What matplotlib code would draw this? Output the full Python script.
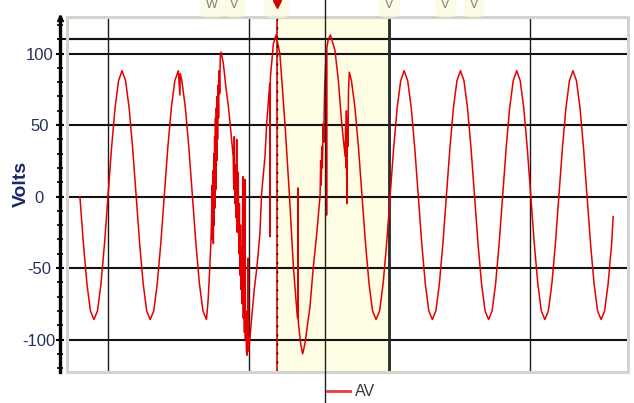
import numpy as np
import matplotlib
matplotlib.use("Agg")
import matplotlib.pyplot as plt
from matplotlib import transforms
from matplotlib.patches import Rectangle
from matplotlib.lines import Line2D

# voltage trace, steady parts sampled every 1.25 ms (16 samples / cycle)
dt = 1.25
seg1_start = 0.0
seg1_v = [0, -33, -61, -80, -86, -80, -61, -33, 0, 34, 62, 81, 88, 81, 62, 34,
          0, -33, -61, -80, -86, -80, -61, -33, 0, 34, 62, 81, 88, 81, 62, 34,
          0, -33, -61, -80]
seg2_start = 96.55
seg2_v = [81, 62, 34,
          0, -33, -61, -80, -86, -80, -61, -33, 0, 34, 62, 81, 88, 81, 62, 34,
          0, -33, -61, -80, -86, -80, -61, -33, 0, 34, 62, 81, 88, 81, 62, 34,
          0, -33, -61, -80, -86, -80, -61, -33, 0, 34, 62, 81, 88, 81, 62, 34,
          0, -33, -61, -80, -86, -80, -61, -33, 0, 34, 62, 81, 88, 81, 62, 34,
          0, -33, -61, -80, -86, -80, -61, -33]

# disturbance (ms, V), plus a notch and the last sample
burst_t = [35.55, 35.7,
           45.0, 45.6, 46.2, 46.6, 46.8, 47.0, 47.15, 47.3, 47.45, 47.6, 47.75,
           47.9, 48.05, 48.2, 48.35, 48.5, 48.65, 48.8, 48.95, 49.1, 49.3, 49.5,
           49.7, 49.9, 50.2, 51.0, 52.0, 52.8, 53.4, 54.0, 54.5, 54.7, 54.9,
           55.1, 55.4, 55.6, 55.75, 55.95, 56.15, 56.3, 56.5, 56.7, 56.9, 57.1,
           57.3, 57.5, 57.7, 57.9, 58.1, 58.3, 58.5, 58.7, 58.85, 59.0, 59.2,
           59.4, 59.6, 59.8, 59.95, 60.2, 60.5, 61.2, 62.0, 62.9, 64.0, 64.6,
           65.8, 66.4, 67.5, 67.6, 67.7, 68.8, 69.7, 71.1, 72.0, 72.9, 74.4,
           75.9, 77.3, 77.45, 77.55, 77.65, 78.5, 79.2, 80.0, 81.8, 83.0, 84.2,
           85.4, 85.6, 85.8, 86.0, 86.2, 86.5, 86.7, 87.0, 87.3, 87.6, 87.7,
           87.8, 88.3, 89.1, 90.7, 91.9, 93.1, 94.3, 94.5, 94.6, 94.75, 94.9,
           95.1, 95.3, 95.5, 95.8,
           189.6]
burst_v = [71, 86,
           -86, -72, -49, -30, -18, 8, -30, 18, -33, 30, -20,
           42, -8, 55, 5, 62, 25, 70, 40, 78, 55, 88,
           72, 97, 101, 93, 75, 63, 51, 38, 28, 5, 42,
           -5, 22, -15, 40, -25, 12, 17, -40, -5, -55, -20,
           -65, -35, -75, 14, -85, -55, -95, 12, -100, -80, -108,
           -111, -104, -43, -108, -105, -98, -82, -65, -50, -26, 2,
           28, 51, 79, -28, 83, 107, 113, 100, 75, 51, 4,
           -49, -84, -85, 6, -88, -103, -110, -103, -77, -49, -26,
           1, 25, 8, 35, 20, 51, 38, 75, 90, 100, -13,
           104, 110, 113, 102, 81, 51, 28, 50, 20, 60, -5,
           55, 35, 75, 87,
           -14]

y_grid = [-100, -50, 0, 50, 100, 110]
x_grid = [10, 60, 110, 160]
y_ticks = [-100, -50, 0, 50, 100]
y_tick_labels = ["-100", "-50", "0", "50", "100"]
span = (70, 110)
trigger_t = 70
cursor_t = 87.1
event_t = [47, 55, 110, 130, 140]
event_labels = ["W", "V", "V", "V", "V"]

narrow = ["Liberation Sans Narrow", "Liberation Sans", "DejaVu Sans"]

t = np.concatenate([seg1_start + dt * np.arange(len(seg1_v)), burst_t,
                    seg2_start + dt * np.arange(len(seg2_v))])
v = np.concatenate([seg1_v, burst_v, seg2_v])
order = np.argsort(t, kind="stable")
t, v = t[order], v[order]

fig = plt.figure(figsize=(6.34, 4.03), dpi=100)
ax = fig.add_axes([0.1049, 0.0769, 0.8849, 0.8821])
ax.set_xlim(-4.76, 194.7)
ax.set_ylim(-122.7, 125.9)

ax.axvspan(*span, color="#fffde4", lw=0, zorder=0)
for y in y_grid:
    ax.axhline(y, color="#141414", lw=1.5, zorder=1)
ax.axhline(110, xmin=-0.013, xmax=1, color="#141414", lw=1.5, zorder=1, clip_on=False)
for x in x_grid:
    ax.axvline(x, color="#1a1a1a", lw=1.0, zorder=1)
ax.axvline(span[1], color="#2a2a2a", lw=2.0, zorder=1)

ax.plot(t, v, color="#e30000", lw=1.1, zorder=3)

ax.axvline(trigger_t, color="#e00000", lw=1.2, zorder=4)
ax.axvline(trigger_t, color="black", lw=1.0, ls=(0, (1.5, 5)), zorder=4)

top = transforms.blended_transform_factory(ax.transData, fig.transFigure)
ax.add_line(Line2D([cursor_t, cursor_t], [0, 1], transform=top, color="#202020",
                   lw=1.0, clip_on=False, zorder=6))

# light frame round the plot area
ax.add_patch(Rectangle((0, 0), 1, 1, transform=ax.transAxes, fill=False,
                       edgecolor="#d6d3cc", lw=2.2, clip_on=False, zorder=5))

for s in ["top", "right", "bottom"]:
    ax.spines[s].set_visible(False)
ax.spines["left"].set_position(("outward", 4.7))
ax.spines["left"].set_linewidth(2.4)
ax.set_xticks([])
ax.set_yticks(y_ticks, y_tick_labels)
ax.set_yticks(np.arange(-120, 121, 10), minor=True)
ax.tick_params(axis="y", which="major", direction="inout", length=6, width=1.5,
               pad=11.9, labelsize=12, labelcolor="#26305c")
ax.tick_params(axis="y", which="minor", direction="inout", length=4, width=1.2)
for lab in ax.get_yticklabels():
    lab.set_ha("center")
    lab.set_family(narrow)
fig.add_artist(Line2D([60 / 634], [1 - 18 / 403], marker="^", ms=4, color="black"))

fig.text(21 / 634, 1 - 184 / 403, "Volts", rotation=90, ha="center", va="center",
         fontsize=14, fontweight="bold", color="#1c2a6c",
         family=["Liberation Sans", "DejaVu Sans"])

# event markers above the plot
blob = dict(boxstyle="round,pad=0.5", fc="#fbfbd6", ec="none", alpha=0.6)
for te, lab in zip(event_t, event_labels):
    ax.text(te, 0.987, lab, transform=top, ha="center", va="center", fontsize=9,
            color="#7c7c7c", family=narrow, clip_on=False, zorder=7, bbox=blob)
ax.text(trigger_t, 0.987, "   ", transform=top, ha="center", va="center", fontsize=9,
        clip_on=False, zorder=7, bbox=blob)
ax.plot([trigger_t], [0.99], marker="v", ms=6, color="#d00000", transform=top,
        clip_on=False, zorder=8)

# legend
ly = 1 - 391 / 403
fig.add_artist(Line2D([327 / 634, 350 / 634], [ly, ly], color="#e83a3a", lw=2.0))
fig.text(355 / 634, ly, "AV", ha="left", va="center", fontsize=11.5, color="#3c3c3c",
         family=narrow)

fig.savefig("out.png", dpi=100)
